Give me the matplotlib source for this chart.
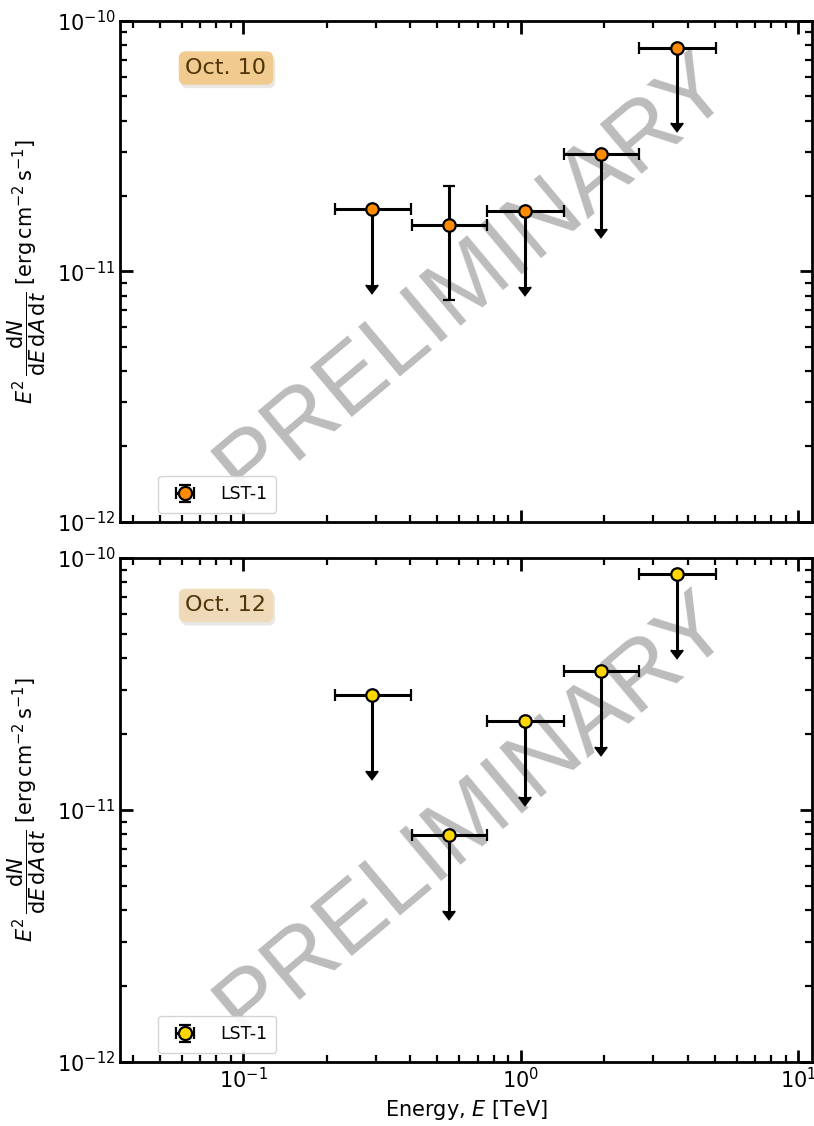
import numpy as np
import matplotlib
matplotlib.use("Agg")
import matplotlib.pyplot as plt
import matplotlib.patheffects as pe

# energy bins (TeV): centers and edges, shared by both nights
e_center = [0.29, 0.55, 1.04, 1.94, 3.66]
e_low = [0.215, 0.404, 0.754, 1.43, 2.67]
e_high = [0.401, 0.754, 1.43, 2.67, 5.06]

# Oct. 10 flux points (erg cm^-2 s^-1)
flux_10 = [1.77e-11, 1.53e-11, 1.74e-11, 2.95e-11, 7.8e-11]
flux_10_lo = [None, 7.7e-12, None, None, None]
flux_10_hi = [None, 2.19e-11, None, None, None]
ul_10 = [True, False, True, True, True]

# Oct. 12 flux points, all upper limits
flux_12 = [2.86e-11, 7.96e-12, 2.25e-11, 3.56e-11, 8.64e-11]
ul_12 = [True, True, True, True, True]

labels = ["Oct. 10", "Oct. 12"]
colors = ["darkorange", "gold"]
box_colors = ["#f1c98a", "#efdab6"]

fig = plt.figure(figsize=(8.14, 11.26), dpi=100)
ax1 = fig.add_axes([0.1475, 0.5365, 0.85, 0.4449])
ax2 = fig.add_axes([0.1475, 0.0568, 0.85, 0.4476], sharex=ax1)


def draw(ax, flux, lo, hi, ul, color, label, boxcolor):
    flux = np.array(flux)
    ul = np.array(ul)
    yerr_lo = np.where(ul, 0.5 * flux, 0.0)
    yerr_hi = np.zeros_like(flux)
    for i in range(len(flux)):
        if not ul[i]:
            yerr_lo[i] = flux[i] - lo[i]
            yerr_hi[i] = hi[i] - flux[i]
    xerr = [np.array(e_center) - np.array(e_low), np.array(e_high) - np.array(e_center)]
    ax.errorbar(e_center, flux, xerr=xerr, yerr=[yerr_lo, yerr_hi], uplims=ul,
                fmt='o', color='black', mfc=color, mec='black', mew=1.6, ms=9,
                elinewidth=2.2, capsize=4, capthick=2.2, label='LST-1', zorder=5)
    ax.set_xscale('log')
    ax.set_yscale('log')
    ax.set_ylim(1e-12, 1e-10)
    ax.set_xlim(0.036, 11.2)
    ax.tick_params(which='both', direction='in', top=True, right=True, labelsize=15)
    ax.tick_params(which='major', length=9, width=2)
    ax.tick_params(which='minor', length=5, width=1.6)
    for s in ax.spines.values():
        s.set_linewidth(2)
    ax.set_ylabel(r'$E^2\,\dfrac{\mathrm{d}N}{\mathrm{d}E\,\mathrm{d}A\,\mathrm{d}t}$ '
                  r'[erg$\,$cm$^{-2}\,$s$^{-1}$]', fontsize=15, labelpad=6)
    ax.legend(loc='lower left', bbox_to_anchor=(0.055, 0.018), borderaxespad=0,
              fontsize=12.5, handletextpad=1.0, borderpad=0.55, markerscale=1.05,
              framealpha=0.9, edgecolor='#d0d0d0')
    ax.text(0.153, 0.906, label, transform=ax.transAxes, ha='center', va='center',
            fontsize=16, color='#4f3408',
            bbox=dict(boxstyle='round,pad=0.3', fc=boxcolor, ec='none', alpha=0.95,
                      path_effects=[pe.withSimplePatchShadow(offset=(1.5, -2.5), alpha=0.12)]))
    ax.text(0.51, 0.49, 'PRELIMINARY', transform=ax.transAxes, ha='center', va='center',
            rotation=40, fontsize=68, family='Liberation Sans', color='#b8b8b8',
            alpha=0.95, zorder=1, clip_on=True)


draw(ax1, flux_10, flux_10_lo, flux_10_hi, ul_10, colors[0], labels[0], box_colors[0])
draw(ax2, flux_12, [None] * 5, [None] * 5, ul_12, colors[1], labels[1], box_colors[1])

plt.setp(ax1.get_xticklabels(), visible=False)
ax2.set_xlabel(r'Energy, $E$ [TeV]', fontsize=15, labelpad=4)

fig.savefig('out.png', dpi=100)
